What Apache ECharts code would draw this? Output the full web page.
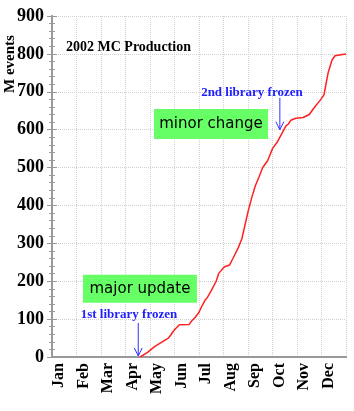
<!DOCTYPE html>
<html>
<head>
<meta charset="utf-8">
<script src="https://cdn.jsdelivr.net/npm/echarts@6/dist/echarts.min.js"></script>
<style>
  html, body { margin: 0; padding: 0; background: #fff; }
  #chart { width: 354px; height: 411px; }
</style>
</head>
<body>
<div id="chart"></div>
<script>
  // months, x value = months since Jan 1
  var months = ['Jan', 'Feb', 'Mar', 'Apr', 'May', 'Jun', 'Jul', 'Aug', 'Sep', 'Oct', 'Nov', 'Dec'];
  var yTicks = [0, 100, 200, 300, 400, 500, 600, 700, 800, 900];

  // cumulative production
  var prodMonth = [3.6, 3.9, 4.2, 4.5, 4.75, 4.85, 4.95, 5.05, 5.2, 5.6, 5.7, 5.85, 6.0, 6.1, 6.25,
    6.35, 6.5, 6.7, 6.8, 6.95, 7.05, 7.25, 7.4, 7.6, 7.75, 7.9, 8.0, 8.15, 8.3, 8.45, 8.6, 8.8,
    9.0, 9.2, 9.4, 9.55, 9.65, 9.75, 9.95, 10.25, 10.5, 10.7, 10.85, 10.95, 11.1, 11.27, 11.43,
    11.55, 11.8, 12.0];
  var prodEvents = [0, 12, 28, 40, 50, 58, 68, 75, 85, 86, 95, 105, 118, 132, 150,
    158, 175, 200, 220, 232, 238, 243, 262, 288, 312, 355, 383, 420, 452, 475, 500, 518,
    550, 568, 592, 610, 615, 625, 630, 632, 640, 658, 670, 678, 692, 750, 784,
    795, 798, 800];

  var serif = 'Liberation Serif';
  var comic = 'DejaVu Sans';

  var points = [];
  for (var i = 0; i < prodMonth.length; i++) {
    points.push([prodMonth[i], prodEvents[i]]);
  }
  var labelPos = [];
  for (var j = 0; j < months.length; j++) {
    labelPos.push(j + 0.3);
  }

  var myChart = echarts.init(document.getElementById('chart'));

  myChart.setOption({
    backgroundColor: '#fff',
    animation: false,
    title: {
      text: '2002 MC Production',
      left: 61,
      top: 35,
      textStyle: { fontFamily: serif, fontWeight: 'bold', fontSize: 14, color: '#000' }
    },
    grid: { left: 52, right: 8, top: 16, bottom: 54 },
    xAxis: [
      {
        type: 'value',
        min: 0,
        max: 12,
        interval: 1,
        axisLine: { show: true, lineStyle: { color: '#999', width: 2 } },
        axisTick: { show: false },
        splitLine: { show: true, lineStyle: { color: '#d0d0d0', type: 'dotted' } },
        axisLabel: {
          customValues: labelPos,
          rotate: 90,
          margin: 6,
          fontFamily: serif,
          fontWeight: 'bold',
          fontSize: 16,
          color: '#000',
          formatter: function (v) { return months[Math.floor(v)]; }
        }
      },
      {
        type: 'value',
        position: 'top',
        min: 0,
        max: 12,
        axisLine: { show: true, lineStyle: { color: '#999', width: 2 } },
        axisTick: { show: false },
        axisLabel: { show: false },
        splitLine: { show: false }
      }
    ],
    yAxis: [
      {
        type: 'value',
        min: 0,
        max: 900,
        interval: 100,
        axisLine: { show: true, lineStyle: { color: '#999', width: 2 } },
        axisTick: { show: true, inside: true, length: 5, lineStyle: { color: '#999' } },
        minorTick: { show: true, splitNumber: 5, length: 3, lineStyle: { color: '#999' } },
        splitLine: { show: true, lineStyle: { color: '#d0d0d0', type: 'dotted' } },
        axisLabel: {
          margin: 8,
          fontFamily: serif,
          fontWeight: 'bold',
          fontSize: 18,
          color: '#000',
          formatter: function (v) { return yTicks.indexOf(v) >= 0 ? String(v) : ''; }
        }
      },
      {
        type: 'value',
        position: 'right',
        min: 0,
        max: 900,
        interval: 100,
        axisLine: { show: true, lineStyle: { color: '#999', width: 2 } },
        axisTick: { show: true, inside: true, length: 5, lineStyle: { color: '#999' } },
        minorTick: { show: true, splitNumber: 5, length: 3, lineStyle: { color: '#999' } },
        splitLine: { show: false },
        axisLabel: { show: false }
      }
    ],
    series: [
      {
        name: 'M events',
        type: 'line',
        data: points,
        showSymbol: false,
        lineStyle: { color: '#ff2020', width: 1.5 }
      }
    ]
  });

  // annotations placed in data coordinates
  function px(m, v) {
    return myChart.convertToPixel({ gridIndex: 0 }, [m, v]);
  }

  function arrow(m, vTop, vTip) {
    var a = px(m, vTop), b = px(m, vTip);
    return [
      { type: 'line', shape: { x1: a[0], y1: a[1], x2: b[0], y2: b[1] }, style: { stroke: '#3030ff', lineWidth: 1 } },
      { type: 'polyline', shape: { points: [[b[0] - 4, b[1] - 8], [b[0], b[1]], [b[0] + 4, b[1] - 8]] }, style: { stroke: '#3030ff', lineWidth: 1, fill: null } }
    ];
  }

  function box(m, v, w, h, label) {
    var c = px(m, v);
    return {
      type: 'group',
      children: [
        { type: 'rect', shape: { x: c[0] - w / 2, y: c[1] - h / 2, width: w, height: h }, style: { fill: '#66ff66' } },
        { type: 'text', x: c[0], y: c[1], style: { text: label, fontFamily: comic, fontSize: 15, fill: '#000', align: 'center', verticalAlign: 'middle' } }
      ]
    };
  }

  function blueText(m, v, label) {
    var c = px(m, v);
    return { type: 'text', x: c[0], y: c[1], style: { text: label, fontFamily: serif, fontWeight: 'bold', fontSize: 13, fill: '#2020ff', align: 'center', verticalAlign: 'middle' } };
  }

  var g = [
    {
      type: 'text',
      x: 10,
      y: 64,
      rotation: Math.PI / 2,
      style: { text: 'M events', fontFamily: serif, fontWeight: 'bold', fontSize: 15, fill: '#000', align: 'center', verticalAlign: 'middle' }
    },
    box(3.59, 180, 114, 28, 'major update'),
    box(6.49, 615, 114, 30, 'minor change'),
    blueText(3.14, 111, '1st library frozen'),
    blueText(8.16, 699, '2nd library frozen')
  ];
  g = g.concat(arrow(3.52, 90, 3), arrow(9.3, 684, 600));

  myChart.setOption({ graphic: g });
</script>
</body>
</html>
